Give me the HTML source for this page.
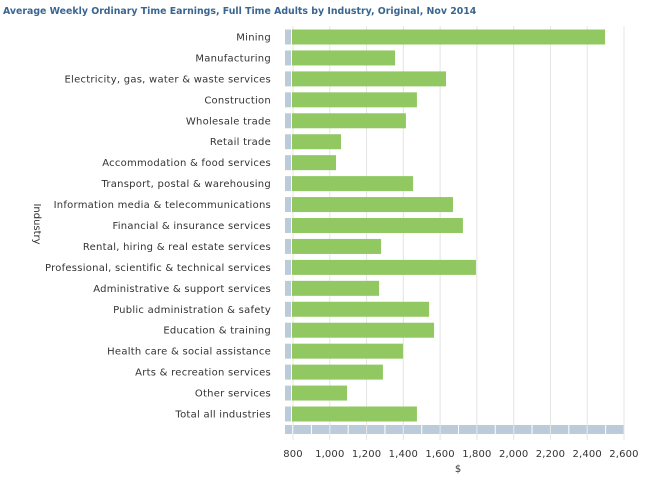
<!DOCTYPE html>
<html><head><meta charset="utf-8"><style>
body{margin:0;background:#fff;}
svg{display:block;font-family:"DejaVu Sans","Liberation Sans",sans-serif;}
</style></head><body>
<svg id="c" width="650" height="481" viewBox="0 0 650 481">
<text x="3" y="14" font-size="9.4" font-weight="bold" fill="#3a6590">Average Weekly Ordinary Time Earnings, Full Time Adults by Industry, Original, Nov 2014</text>
<text transform="translate(34,224) rotate(90)" text-anchor="middle" font-size="10" fill="#333">Industry</text>
<text x="458" y="472" text-anchor="middle" font-size="10" fill="#333">$</text>
<g id="grid"></g><g id="bars"></g><g id="labels"></g><g id="ticks"></g>
</svg>
<script>
const categories=["Mining","Manufacturing","Electricity, gas, water & waste services","Construction","Wholesale trade","Retail trade","Accommodation & food services","Transport, postal & warehousing","Information media & telecommunications","Financial & insurance services","Rental, hiring & real estate services","Professional, scientific & technical services","Administrative & support services","Public administration & safety","Education & training","Health care & social assistance","Arts & recreation services","Other services","Total all industries"];
const values=[2497,1355,1632,1474,1414,1061,1034,1453,1670,1724,1279,1795,1268,1540,1567,1398,1289,1094,1474];
const tickValues=[800,1000,1200,1400,1600,1800,2000,2200,2400,2600];
const tickLabels=["800","1,000","1,200","1,400","1,600","1,800","2,000","2,200","2,400","2,600"];
const NS="http://www.w3.org/2000/svg";
const x0=293,x1=624,vmin=800,vmax=2600;
function xs(v){return x0+(v-vmin)*(x1-x0)/(vmax-vmin);}
function ys(i){return 37+i*(414-37)/(categories.length-1);}
function mk(t,a,p){const e=document.createElementNS(NS,t);for(const k in a)e.setAttribute(k,a[k]);p.appendChild(e);return e;}
const grid=document.getElementById('grid'),bars=document.getElementById('bars'),labels=document.getElementById('labels'),ticks=document.getElementById('ticks');
tickValues.forEach((v,i)=>{
  const l=mk('line',{x1:xs(v),x2:xs(v),y1:26,y2:440,stroke:'#e4e4e4','stroke-width':1},grid);
  
  
  const t=mk('text',{x:xs(v),y:457,'text-anchor':'middle','font-size':10,'letter-spacing':0.15,fill:'#333'},ticks);
  t.textContent=tickLabels[i];
  
  
});
for(let i=0;i<tickValues.length*2-2;i++){
  const a=xs(vmin+i*100),b=xs(vmin+(i+1)*100);
  const r=mk('rect',{x:a+0.5,y:425,width:b-a-1,height:9,fill:'#bccbd9'},grid);
  
  
}
mk('rect',{x:285,y:425,width:7,height:9,fill:'#bccbd9'},grid);
categories.forEach((c,i)=>{
  const y=ys(i);
  const s=mk('rect',{x:285,y:y-7.5,width:6,height:15,fill:'#bccbd9'},bars);
  
  
  const r=mk('rect',{x:x0-1,y:y-7.5,width:xs(values[i])-x0+1,height:15,fill:'#92c862'},bars);
  
  
  const t=mk('text',{x:271,y:y+3.5,'text-anchor':'end','font-size':10,'letter-spacing':0.25,fill:'#333'},labels);
  t.textContent=c;
  
  
});
</script>
</body></html>
